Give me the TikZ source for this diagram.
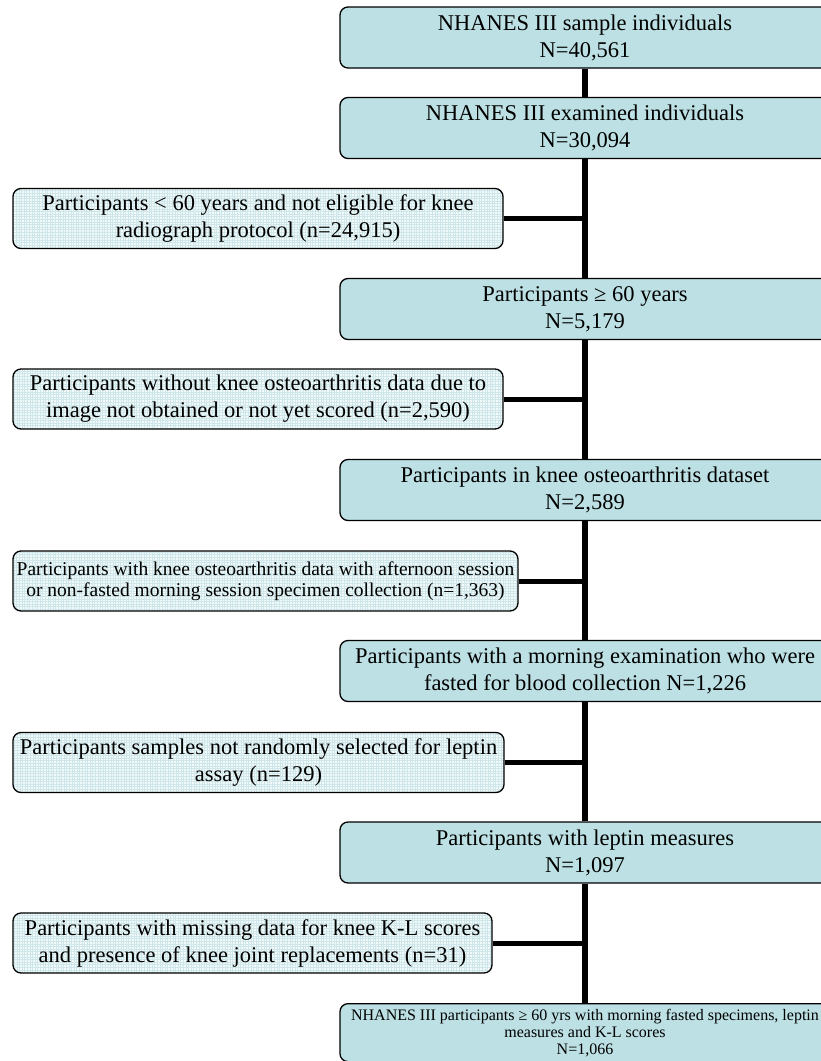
\documentclass[tikz,border=0pt]{standalone}
\usepackage{fontspec}
\setmainfont{Liberation Serif}
\definecolor{rfill}{HTML}{BCE0E3}
\definecolor{lfill}{HTML}{F3FAFA}
\definecolor{lgrid}{HTML}{CFE7EA}
\begin{document}
\begin{tikzpicture}[x=1pt,y=-1pt,
  rbox/.style={draw=black, line width=1.3pt, fill=rfill, rounded corners=8pt,
    minimum width=490pt, minimum height=61pt, align=center, inner sep=2pt,
    font=\fontsize{22.5}{27}\selectfont},
  lbox/.style={draw=black, line width=1.3pt, fill=lfill, rounded corners=8pt,
    minimum height=60pt, align=center, inner sep=2pt,
    font=\fontsize{22.5}{27}\selectfont,
    path picture={\draw[lgrid, line width=0.6pt]
      (path picture bounding box.south west) grid[step=2.6pt]
      (path picture bounding box.north east);}},
  conn/.style={line width=5pt, black},
  vconn/.style={line width=5.5pt, black}]
\useasboundingbox (0,0) rectangle (821,1061);
\clip (0,0) rectangle (821,1061);

% right column
\node[rbox] (b1) at (585,37.5) {NHANES III sample individuals\\N=40,561};
\node[rbox] (b2) at (585,128) {NHANES III examined individuals\\N=30,094};
\node[rbox] (b3) at (585,309) {Participants ≥ 60 years\\N=5,179};
\node[rbox] (b4) at (585,490) {Participants in knee osteoarthritis dataset\\N=2,589};
\node[rbox] (b5) at (585,671) {Participants with a morning examination who were\\fasted for blood collection N=1,226};
\node[rbox] (b6) at (585,852.5) {Participants with leptin measures\\N=1,097};
\node[rbox, anchor=north, minimum height=58pt, inner ysep=2pt,
  font=\fontsize{16}{17}\selectfont] (b7) at (585,1003)
  {NHANES III participants ≥ 60 yrs with morning fasted specimens, leptin\\measures and K-L scores\\N=1,066};

% left column
\node[lbox, minimum width=490pt] (l1) at (258,218.5) {Participants < 60 years and not eligible for knee\\radiograph protocol (n=24,915)};
\node[lbox, minimum width=490pt] (l2) at (258,399) {Participants without knee osteoarthritis data due to\\image not obtained or not yet scored (n=2,590)};
\node[lbox, minimum width=505pt, font=\fontsize{19.5}{21}\selectfont] (l3) at (265.5,581) {Participants with knee osteoarthritis data with afternoon session\\or non-fasted morning session specimen collection (n=1,363)};
\node[lbox, minimum width=491pt] (l4) at (258.5,762.5) {Participants samples not randomly selected for leptin\\assay (n=129)};
\node[lbox, minimum width=479pt] (l5) at (252.5,943) {Participants with missing data for knee K-L scores\\and presence of knee joint replacements (n=31)};

% connectors
\draw[vconn] (b1.south) -- (b2.north);
\draw[vconn] (b2.south) -- (b3.north);
\draw[vconn] (b3.south) -- (b4.north);
\draw[vconn] (b4.south) -- (b5.north);
\draw[vconn] (b5.south) -- (b6.north);
\draw[vconn] (b6.south) -- (b7.north);
\draw[conn] (l1.east) -- (l1.east -| b2.south);
\draw[conn] (l2.east) -- (l2.east -| b3.south);
\draw[conn] (l3.east) -- (l3.east -| b4.south);
\draw[conn] (l4.east) -- (l4.east -| b5.south);
\draw[conn] (l5.east) -- (l5.east -| b6.south);
\end{tikzpicture}
\end{document}
